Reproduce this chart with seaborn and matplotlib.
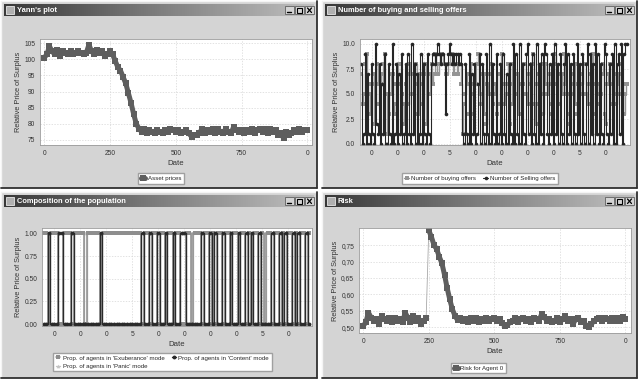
import numpy as np
import seaborn as sns
import matplotlib.pyplot as plt
from matplotlib.patches import Rectangle
from matplotlib.colors import LinearSegmentedColormap

sns.set_style("whitegrid")
plt.rcParams["font.family"] = ["Liberation Sans", "DejaVu Sans"]

# Yann's plot: asset price every 10 dates
price_dates = np.arange(0, 1001, 10)
asset_price = [
    100.5, 101.5, 104.0, 102.5, 101.5, 103.0, 101.0, 102.5, 102.0, 101.5,
    102.5, 101.5, 102.0, 102.5, 102.0, 101.5, 102.0, 104.5, 102.5, 101.5,
    103.0, 102.0, 102.5, 101.0, 101.5, 102.5,
    101.5, 99.5, 97.5, 96.5, 94.5, 92.5, 89.5, 86.5, 83.0, 80.0, 78.5,
    77.5, 78.5, 77.0, 78.0, 77.5, 77.0, 78.0, 77.5, 77.0, 78.0,
    77.5, 78.5, 78.0, 77.5, 78.0, 77.0, 77.5, 78.0, 77.0, 76.0,
    76.5, 76.5, 77.0, 78.5, 77.0, 78.0, 77.5, 78.5, 77.0, 78.5,
    77.5, 77.0, 78.5, 77.5, 77.0, 79.0, 78.0, 77.5, 78.0, 77.0,
    78.0, 77.5, 78.5, 77.0, 78.0, 78.5, 77.5, 78.5, 77.0, 78.5,
    77.5, 78.0, 76.5, 77.0, 75.5, 77.5, 76.5, 77.0, 78.0, 77.5,
    78.5, 77.5, 78.0, 78.0,
]

# Number of buying and selling offers, every 5 dates
offer_dates = np.arange(10, 1031, 5)
buying_offers = [
    7, 4, 5, 8, 9, 6, 3, 5, 6, 7, 2, 4, 8, 6, 4, 7, 6, 8, 9, 5,
    1, 3, 5, 7, 7, 4, 3, 6, 6, 8, 8, 5, 2, 4, 6, 7, 4, 8, 7, 5,
    5, 3, 8, 6, 3, 7, 6, 4, 7, 8, 2, 5, 5, 7, 8, 6, 7, 9, 8, 7,
    8, 9, 9, 8, 8, 7, 7, 8, 8, 9, 9, 7, 8, 8, 7, 8, 8, 6, 1, 4,
    5, 7, 6, 3, 8, 5, 3, 6, 6, 8, 9, 5, 4, 7, 7, 3, 2, 6, 5, 7,
    8, 4, 6, 5, 3, 7, 7, 4, 9, 6, 4, 5, 6, 8, 2, 4, 8, 6, 5, 7,
    7, 3, 3, 6, 6, 8, 8, 5, 4, 7, 6, 8, 9, 4, 2, 6, 7, 4, 5, 8,
    3, 6, 8, 5, 6, 7, 4, 3, 8, 9, 6, 4, 4, 7, 7, 5, 9, 6, 5, 3,
    2, 5, 6, 7, 8, 4, 3, 6, 7, 5, 6, 8, 8, 5, 4, 6, 7, 8, 9, 6,
    3, 5, 6, 4, 5, 7, 8, 3, 2, 6, 7, 8, 6, 4, 5, 7, 4, 6, 7, 5,
    8, 6, 3, 5, 6,
]
selling_offers = [
    8, 0, 1, 9, 0, 7, 1, 0, 8, 1, 0, 10, 2, 1, 8, 0, 6, 1, 9, 0,
    0, 8, 1, 0, 10, 0, 1, 8, 0, 7, 1, 9, 0, 1, 8, 0, 9, 1, 0, 10,
    1, 8, 0, 7, 0, 1, 9, 0, 8, 1, 0, 9, 1, 0, 8, 9, 9, 8, 9, 10,
    9, 8, 9, 9, 8, 3, 8, 9, 10, 9, 8, 9, 8, 9, 9, 8, 9, 8, 1, 0,
    8, 1, 0, 9, 0, 7, 1, 8, 0, 1, 6, 9, 0, 8, 1, 0, 9, 1, 0, 10,
    0, 8, 1, 0, 9, 0, 1, 8, 0, 9, 1, 0, 7, 0, 8, 1, 0, 10, 0, 9,
    1, 0, 10, 0, 8, 1, 0, 9, 10, 1, 8, 0, 9, 1, 0, 10, 0, 8, 1, 9,
    0, 10, 9, 1, 0, 8, 1, 9, 0, 10, 1, 8, 0, 9, 1, 0, 8, 10, 0, 9,
    1, 8, 0, 9, 1, 0, 10, 1, 8, 0, 9, 1, 0, 8, 10, 0, 9, 1, 8, 0,
    10, 1, 9, 0, 8, 1, 0, 10, 9, 1, 0, 8, 1, 9, 0, 10, 0, 8, 9, 1,
    10, 0, 9, 10, 10,
]

# Composition of the population
mode_dates = np.arange(10, 1031, 10)
prop_exuberance = [
    1, 1, 0, 1, 1, 1, 0, 0, 1, 1,
    1, 0, 1, 1, 1, 1, 0, 1, 1, 1,
    1, 1, 0, 1, 1, 1, 1, 1, 1, 1,
    1, 1, 1, 1, 1, 1, 1, 1, 0, 1,
    1, 0, 1, 1, 0, 1, 1, 0, 1, 1,
    0, 1, 1, 0, 0, 1, 1, 0, 1, 1,
    1, 0, 1, 1, 0, 1, 0, 1, 1, 0,
    1, 1, 0, 1, 1, 0, 1, 1, 0, 1,
    0, 1, 1, 0, 1, 0, 1, 1, 0, 1,
    1, 0, 1, 0, 1, 1, 0, 1, 0, 1,
    1, 0, 1,
]
prop_content = [
    0, 0, 1, 0, 0, 0, 1, 1, 0, 0,
    0, 1, 0, 0, 0, 0, 0, 0, 0, 0,
    0, 0, 1, 0, 0, 0, 0, 0, 0, 0,
    0, 0, 0, 0, 0, 0, 0, 0, 1, 0,
    0, 1, 0, 0, 1, 0, 0, 1, 0, 0,
    1, 0, 0, 1, 1, 0, 0, 0, 0, 0,
    0, 1, 0, 0, 1, 0, 1, 0, 0, 1,
    0, 0, 1, 0, 0, 1, 0, 0, 1, 0,
    1, 0, 0, 1, 0, 0, 0, 0, 1, 0,
    0, 1, 0, 1, 0, 0, 1, 0, 1, 0,
    0, 1, 0,
]
prop_panic = [
    0, 0, 0, 0, 0, 0, 0, 0, 0, 0,
    0, 0, 0, 0, 0, 0, 1, 0, 0, 0,
    0, 0, 0, 0, 0, 0, 0, 0, 0, 0,
    0, 0, 0, 0, 0, 0, 0, 0, 0, 0,
    0, 0, 0, 0, 0, 0, 0, 0, 0, 0,
    0, 0, 0, 0, 0, 0, 0, 1, 0, 0,
    0, 0, 0, 0, 0, 0, 0, 0, 0, 0,
    0, 0, 0, 0, 0, 0, 0, 0, 0, 0,
    0, 0, 0, 0, 0, 1, 0, 0, 0, 0,
    0, 0, 0, 0, 0, 0, 0, 0, 0, 0,
    0, 0, 0,
]

# Risk for agent 0
risk_dates = np.arange(0, 1001, 10)
risk_agent0 = [
    0.505, 0.515, 0.545, 0.530, 0.520, 0.525, 0.510, 0.535, 0.525, 0.520,
    0.530, 0.515, 0.530, 0.520, 0.525, 0.515, 0.545, 0.530, 0.515, 0.535,
    0.520, 0.530, 0.510, 0.520, 0.528,
    0.795, 0.775, 0.750, 0.738, 0.715, 0.695, 0.660, 0.620, 0.585, 0.555,
    0.535, 0.522,
    0.530, 0.520, 0.525, 0.515, 0.528, 0.520, 0.530, 0.515, 0.525, 0.520,
    0.530, 0.520, 0.525, 0.530, 0.520, 0.525, 0.512, 0.505, 0.508, 0.515,
    0.520, 0.530, 0.515, 0.525, 0.530, 0.520, 0.525, 0.515, 0.530, 0.525,
    0.520, 0.540, 0.532, 0.520, 0.525, 0.515, 0.520, 0.530, 0.515, 0.525,
    0.535, 0.520, 0.525, 0.510, 0.525, 0.530, 0.515, 0.520, 0.505, 0.500,
    0.510, 0.520, 0.525, 0.530, 0.520, 0.530, 0.525, 0.520, 0.530, 0.518,
    0.528, 0.520, 0.532, 0.525,
]
risk_break = 250

price_ticks = [0, 250, 500, 750, 1000]
price_tick_labels = ["0", "250", "500", "750", "0"]
dense_ticks = [50, 150, 250, 350, 450, 550, 650, 750, 850, 950]
dense_tick_labels = ["0", "0", "0", "5", "0", "0", "0", "0", "5", "0"]

W, H = 640, 379
fig = plt.figure(figsize=(6.4, 3.79), dpi=100)
fig.patch.set_facecolor("white")

# full-figure axes in pixel units for the window chrome
bg = fig.add_axes([0, 0, 1, 1])
bg.axis("off")
title_cmap = LinearSegmentedColormap.from_list("tb", ["#383838", "#7e7e7e", "#c0c0c0"])


def draw_window(x0, y0, x1, y1, title):
    bg.add_patch(Rectangle((x0, y0), x1 - x0, y1 - y0, facecolor="#d4d4d4", edgecolor="none", zorder=0))
    bg.plot([x0, x1], [y0, y0], color="#f4f4f4", lw=1, zorder=1)
    bg.plot([x0, x0], [y0, y1], color="#f4f4f4", lw=1, zorder=1)
    bg.plot([x0, x1], [y1, y1], color="#303030", lw=1.3, zorder=1)
    bg.plot([x1, x1], [y0, y1], color="#303030", lw=1.3, zorder=1)
    grad = np.linspace(0, 1, 256).reshape(1, -1)
    bg.imshow(grad, extent=(x0 + 3, x1 - 3, y0 + 15, y0 + 3), cmap=title_cmap,
              aspect="auto", zorder=2, interpolation="bilinear")
    # small icon
    bg.add_patch(Rectangle((x0 + 5, y0 + 5), 8, 8, facecolor="#b0b0b0", edgecolor="#e8e8e8", lw=0.6, zorder=3))
    bg.text(x0 + 16, y0 + 9.3, title, color="white", fontsize=5.4, fontweight="bold",
            va="center", ha="left", zorder=4)
    # window buttons
    for i, bx in enumerate([x1 - 32, x1 - 22, x1 - 12]):
        bg.add_patch(Rectangle((bx, y0 + 5), 9, 8, facecolor="#d4d4d4", edgecolor="#606060", lw=0.6, zorder=3))
        if i == 0:
            bg.plot([bx + 2, bx + 6], [y0 + 11, y0 + 11], color="black", lw=1, zorder=4)
        elif i == 1:
            bg.add_patch(Rectangle((bx + 2, y0 + 7), 5, 4.5, facecolor="none", edgecolor="black", lw=0.8, zorder=4))
        else:
            bg.plot([bx + 2.5, bx + 6.5], [y0 + 7, y0 + 11.5], color="black", lw=0.9, zorder=4)
            bg.plot([bx + 2.5, bx + 6.5], [y0 + 11.5, y0 + 7], color="black", lw=0.9, zorder=4)


draw_window(1, 1, 317, 188, "Yann's plot")
draw_window(322, 1, 637, 188, "Number of buying and selling offers")
draw_window(1, 192, 317, 378, "Composition of the population")
draw_window(322, 192, 637, 378, "Risk")
bg.set_xlim(0, W)
bg.set_ylim(H, 0)


def px_axes(left, top, right, bottom):
    return fig.add_axes([left / W, 1 - bottom / H, (right - left) / W, (bottom - top) / H])


def style_axes(ax):
    ax.set_facecolor("white")
    ax.grid(True, color="#d6d6d6", linestyle=(0, (2, 2)), linewidth=0.5)
    for sp in ax.spines.values():
        sp.set_color("#9a9a9a")
        sp.set_linewidth(0.6)
    ax.tick_params(labelsize=4.8, labelcolor="#333333", color="#888888", length=2, width=0.5, pad=1.5)
    ax.set_ylabel("Relative Price of Surplus", fontsize=5.3, color="#333333", labelpad=1.5)
    ax.set_xlabel("Date", fontsize=5.6, color="#333333", labelpad=2)


def style_legend(ax, handles, labels, cx, cy, ncol=1):
    ax.legend(handles, labels, loc="center", bbox_to_anchor=(cx, cy), bbox_transform=bg.transData,
              ncol=ncol, fontsize=4.4, frameon=True, fancybox=False, edgecolor="#a0a0a0",
              framealpha=1, borderpad=0.45, handlelength=0.7, handletextpad=0.4,
              columnspacing=1.2, labelspacing=0.45, borderaxespad=0)


band = "#5e5e5e"

# --- Yann's plot ---
ax1 = px_axes(40, 39, 312, 145)
sns.lineplot(x=price_dates, y=asset_price, color=band, linewidth=3.6, marker="s",
             markersize=3.8, markeredgewidth=0, label="Asset prices", ax=ax1)
ax1.set_xlim(-16, 1018)
ax1.set_ylim(73.4, 106.3)
ax1.set_yticks([75, 80, 85, 90, 95, 100, 105])
ax1.set_xticks(price_ticks, price_tick_labels)
style_axes(ax1)
h, l = ax1.get_legend_handles_labels()
style_legend(ax1, h, l, 161, 178.5)

# --- Number of buying and selling offers ---
ax2 = px_axes(360, 39, 630, 145)
sns.lineplot(x=offer_dates, y=buying_offers, color="#959595", linewidth=1.0, marker="s",
             markersize=2.6, markeredgewidth=0, drawstyle="steps-mid",
             label="Number of buying offers", ax=ax2)
sns.lineplot(x=offer_dates, y=selling_offers, color="#262626", linewidth=0.8, marker="o",
             markersize=2.6, markeredgewidth=0, drawstyle="steps-mid",
             label="Number of Selling offers", ax=ax2)
ax2.set_xlim(5, 1043)
ax2.set_ylim(-0.1, 10.5)
ax2.set_yticks([0, 2.5, 5, 7.5, 10], ["0.0", "2.5", "5.0", "7.5", "10.0"])
ax2.set_xticks(dense_ticks, dense_tick_labels)
style_axes(ax2)
h, l = ax2.get_legend_handles_labels()
style_legend(ax2, h, l, 480, 178.5, ncol=2)

# --- Composition of the population ---
ax3 = px_axes(42, 228, 312, 326)
sns.lineplot(x=mode_dates, y=prop_panic, color="#c4c4c4", linewidth=1.0, marker="^",
             markersize=2.6, markeredgewidth=0, drawstyle="steps-mid",
             label="Prop. of agents in 'Panic' mode", ax=ax3)
sns.lineplot(x=mode_dates, y=prop_exuberance, color="#8e8e8e", linewidth=1.1, marker="s",
             markersize=2.8, markeredgewidth=0, drawstyle="steps-mid",
             label="Prop. of agents in 'Exuberance' mode", ax=ax3)
sns.lineplot(x=mode_dates, y=prop_content, color="#2a2a2a", linewidth=1.0, marker="o",
             markersize=2.8, markeredgewidth=0, drawstyle="steps-mid",
             label="Prop. of agents in 'Content' mode", ax=ax3)
ax3.set_xlim(3, 1041)
ax3.set_ylim(-0.022, 1.06)
ax3.set_yticks([0, 0.25, 0.5, 0.75, 1.0], ["0.00", "0.25", "0.50", "0.75", "1.00"])
ax3.set_xticks(dense_ticks, dense_tick_labels)
style_axes(ax3)
h, l = ax3.get_legend_handles_labels()
# rows: Exuberance | Content, then Panic
style_legend(ax3, [h[1], h[0], h[2]], [l[1], l[0], l[2]], 162.5, 362, ncol=2)

# --- Risk ---
ax4 = px_axes(359, 228, 631, 333)
risk_arr = np.array(risk_agent0)
before = risk_dates < risk_break
sns.lineplot(x=risk_dates, y=risk_agent0, color="#a8a8a8", linewidth=0.6, legend=False, ax=ax4)
sns.lineplot(x=risk_dates[before], y=risk_arr[before], color=band, linewidth=3.6, marker="s",
             markersize=3.8, markeredgewidth=0, legend=False, ax=ax4)
sns.lineplot(x=risk_dates[~before], y=risk_arr[~before], color=band, linewidth=3.6, marker="s",
             markersize=3.8, markeredgewidth=0, label="Risk for Agent 0", ax=ax4)
ax4.set_xlim(-16, 1021)
ax4.set_ylim(0.483, 0.802)
ax4.set_yticks([0.50, 0.55, 0.60, 0.65, 0.70, 0.75], ["0,50", "0,55", "0,60", "0,65", "0,70", "0,75"])
ax4.set_xticks(price_ticks, price_tick_labels)
style_axes(ax4)
h, l = ax4.get_legend_handles_labels()
style_legend(ax4, h, l, 478.5, 368)

fig.savefig("out.png", dpi=100, facecolor=fig.get_facecolor())
plt.close(fig)
